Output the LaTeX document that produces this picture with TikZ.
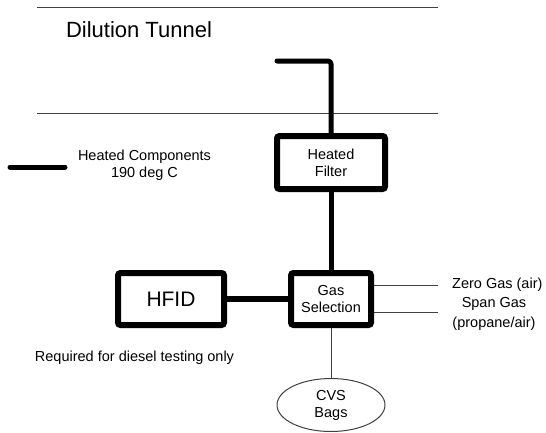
\documentclass[tikz,border=0pt]{standalone}
\usepackage{fontspec}
\setmainfont{Liberation Sans}
\usetikzlibrary{shapes.geometric}
\begin{document}
\begin{tikzpicture}[x=1pt,y=-1pt,
  txt/.style={inner sep=0pt, align=center, font=\fontsize{14.5}{17}\selectfont},
  heatbox/.style={draw, line width=6pt, rounded corners=2.5pt, inner sep=0pt, align=center, font=\fontsize{14.5}{17}\selectfont},
  pipe/.style={line width=5pt, line cap=round, line join=round, rounded corners=3pt},
  thinline/.style={line width=1pt, draw=black!75},
]
\useasboundingbox (0,0) rectangle (546,432);
% tunnel walls
\coordinate (t1) at (37,7.5);
\coordinate (t2) at (438,7.5);
\coordinate (t3) at (37,113);
\coordinate (t4) at (438,113);
\draw[thinline] (t1) -- (t2);
\draw[thinline] (t3) -- (t4);
\node[txt, font=\fontsize{22}{26}\selectfont] (dt) at (139,30) {Dilution Tunnel};
% legend
\coordinate (l1) at (10,167);
\coordinate (l2) at (65,167);
\draw[pipe] (l1) -- (l2);
\node[txt] (leg) at (144.5,165) {Heated Components\\190 deg C};
% boxes
\node[heatbox, minimum width=108pt, minimum height=53pt] (hf) at (331,162.5) {Heated\\Filter};
\node[heatbox, minimum width=80pt, minimum height=52pt] (gs) at (331,299) {Gas\\Selection};
\node[heatbox, minimum width=106pt, minimum height=52pt, font=\fontsize{21}{24}\selectfont] (hfid) at (171,299) {HFID};
\node[ellipse, draw=black!75, line width=1pt, minimum width=108pt, minimum height=53pt, inner sep=0pt, align=center, font=\fontsize{14.5}{17}\selectfont] (cvs) at (331,405) {CVS\\Bags};
% heated lines
\coordinate (p0) at (277,61);
\draw[pipe] (p0) -| (hf.north);
\draw[pipe, line cap=butt] (hf.south) -- (gs.north);
\draw[line width=6pt] (hfid.east) -- (gs.west);
% thin lines
\coordinate (z1) at (438,285);
\coordinate (s1) at (438,312);
\draw[thinline] (gs.east |- z1) -- (z1);
\draw[thinline] (gs.east |- s1) -- (s1);
\draw[thinline] (gs.south) -- (cvs.north);
\node[txt, anchor=west] (zg) at (452,285) {Zero Gas (air)};
\node[txt, font=\fontsize{14.5}{20}\selectfont] (sg) at (494,314) {Span Gas\\(propane/air)};
\node[txt] (req) at (134.5,358) {Required for diesel testing only};
\end{tikzpicture}
\end{document}
